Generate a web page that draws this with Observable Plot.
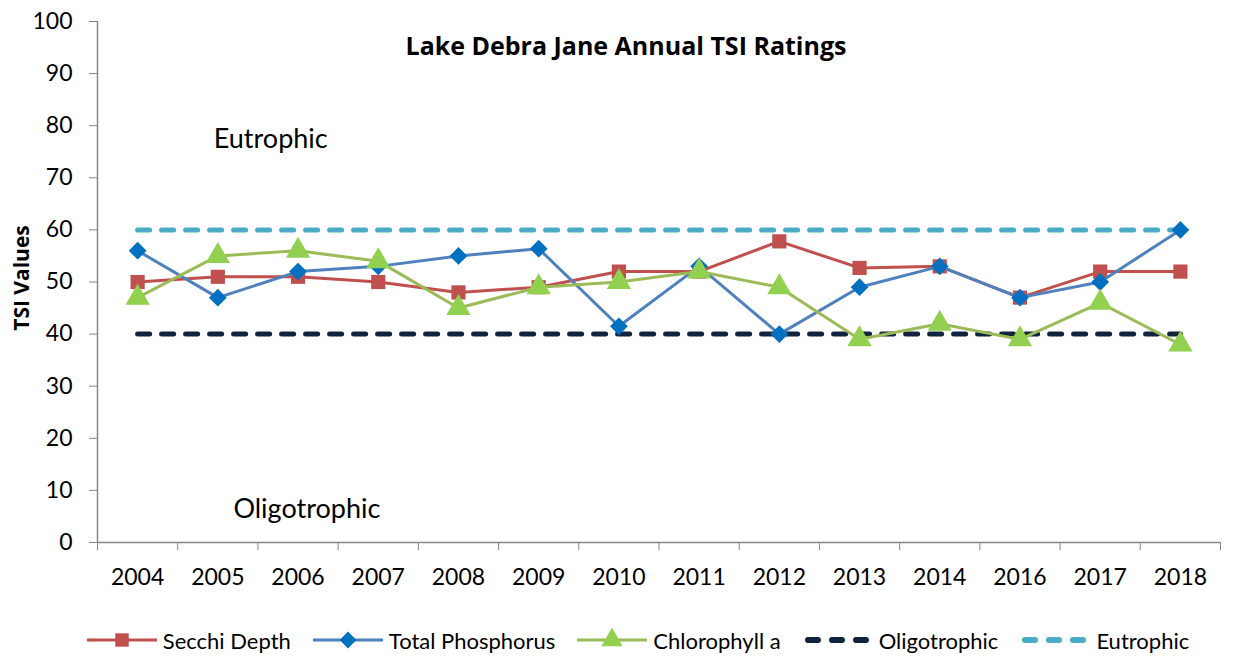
<!DOCTYPE html>
<html><head><meta charset="utf-8">
<script src="https://cdn.jsdelivr.net/npm/d3@7"></script>
<script src="https://cdn.jsdelivr.net/npm/@observablehq/plot@0.6"></script>
<style>
body{margin:0;background:#fff;font-family:Lato,"Open Sans",sans-serif;}
#legend{display:flex;justify-content:center;align-items:center;height:58px;margin-top:11px;padding-left:38px;font-size:22px;color:#000;}
#legend .item{display:flex;align-items:center;margin:0 11px;}
#legend svg{margin-right:6px;}
</style></head><body><div id="chart"></div><div id="legend"></div>
<script>
const years = ["2004","2005","2006","2007","2008","2009","2010","2011","2012","2013","2014","2016","2017","2018"];
const secchi = [50,51,51,50,48,49,52,52,57.8,52.7,53,47,52,52];
const phosphorus = [56,47,52,53,55,56.4,41.5,53,40,49,53,47,50,60];
const chlorophyll = [47,55,56,54,45,49,50,52,49,39,42,39,46,38];
const oligotrophic = [40,40,40,40,40,40,40,40,40,40,40,40,40,40];
const eutrophic = [60,60,60,60,60,60,60,60,60,60,60,60,60,60];
const yTicks = [0,10,20,30,40,50,60,70,80,90,100];

const rows = arr => arr.map((v, i) => ({i, v}));
const idx = years.map((_, i) => i);
const halves = [...idx.map(i => i - 0.5), years.length - 0.5];

const C = {secchiLine:"#C0504D", secchiDot:"#C0504D", tpLine:"#4F81BD", tpDot:"#0070C0", chlLine:"#9BBB59", chlDot:"#92D050", oligo:"#10243E", eu:"#4BACC6"};
const boldFont = '"Open Sans",Lato,sans-serif';

const chart = Plot.plot({
  width: 1238, height: 600,
  marginTop: 21, marginBottom: 58, marginLeft: 97, marginRight: 18,
  style: {fontFamily: 'Lato,"Open Sans",sans-serif', fontSize: "23px", color: "#000", background: "#fff"},
  x: {type: "linear", domain: [-0.5, years.length - 0.5]},
  y: {domain: [0, 100]},
  marks: [
    Plot.axisY({ticks: yTicks, tickSize: 8, tickPadding: 17, stroke: "#868686", fill: "#000", label: null, fontSize: 23}),
    Plot.axisX({ticks: idx, tickSize: 0, tickPadding: 26, tickFormat: i => years[i], label: null, fontSize: 23, fill: "#000"}),
    Plot.axisX({ticks: halves, tickSize: 8, tickFormat: () => "", stroke: "#868686", label: null}),
    Plot.ruleX([-0.5], {stroke: "#868686", strokeWidth: 1.5}),
    Plot.ruleY([0], {stroke: "#868686", strokeWidth: 1.5}),
    Plot.line(rows(oligotrophic), {x: "i", y: "v", stroke: C.oligo, strokeWidth: 5, strokeDasharray: "12,12", strokeLinecap: "round"}),
    Plot.line(rows(eutrophic), {x: "i", y: "v", stroke: C.eu, strokeWidth: 5, strokeDasharray: "12,12", strokeLinecap: "round"}),
    Plot.line(rows(secchi), {x: "i", y: "v", stroke: C.secchiLine, strokeWidth: 3}),
    Plot.dot(rows(secchi), {x: "i", y: "v", symbol: "square", r: 8, fill: C.secchiDot, stroke: null}),
    Plot.line(rows(phosphorus), {x: "i", y: "v", stroke: C.tpLine, strokeWidth: 3}),
    Plot.dot(rows(phosphorus), {x: "i", y: "v", symbol: "diamond2", r: 8, fill: C.tpDot, stroke: null}),
    Plot.line(rows(chlorophyll), {x: "i", y: "v", stroke: C.chlLine, strokeWidth: 3}),
    Plot.dot(rows(chlorophyll), {x: "i", y: "v", symbol: "triangle", r: 9, fill: C.chlDot, stroke: null}),
    Plot.text(["Lake Debra Jane Annual TSI Ratings"], {frameAnchor: "top", dy: 16, dx: -33, fontWeight: "bold", fontSize: 25, fontFamily: boldFont, fill: "#000"}),
    Plot.text(["TSI Values"], {frameAnchor: "left", textAnchor: "middle", rotate: -90, dx: -75, dy: -4, fontWeight: "bold", fontSize: 21, fontFamily: boldFont, fill: "#000"}),
    Plot.text(["Eutrophic"], {x: 1.66, y: 77.4, fontSize: 27, fill: "#000"}),
    Plot.text(["Oligotrophic"], {x: 2.11, y: 6.3, fontSize: 27, fill: "#000"})
  ]
});
document.getElementById("chart").append(chart);

const legendItems = [
  {label: "Secchi Depth", line: C.secchiLine, marker: "square", mcolor: C.secchiDot},
  {label: "Total Phosphorus", line: C.tpLine, marker: "diamond2", mcolor: C.tpDot},
  {label: "Chlorophyll a", line: C.chlLine, marker: "triangle", mcolor: C.chlDot},
  {label: "Oligotrophic", line: C.oligo, dash: true},
  {label: "Eutrophic", line: C.eu, dash: true}
];
const symMap = {square: d3.symbolSquare, diamond2: d3.symbolDiamond2, triangle: d3.symbolTriangle};
const leg = d3.select("#legend");
for (const it of legendItems) {
  const item = leg.append("div").attr("class", "item");
  const svg = item.append("svg").attr("width", 70).attr("height", 24);
  if (it.dash) {
    svg.append("line").attr("x1", 5).attr("x2", 65).attr("y1", 12).attr("y2", 12)
      .attr("stroke", it.line).attr("stroke-width", 6).attr("stroke-dasharray", "10,14").attr("stroke-linecap", "round");
  } else {
    svg.append("line").attr("x1", 0).attr("x2", 70).attr("y1", 12).attr("y2", 12)
      .attr("stroke", it.line).attr("stroke-width", 3);
    svg.append("path").attr("transform", "translate(35,12)")
      .attr("d", d3.symbol(symMap[it.marker], it.marker === "triangle" ? 200 : 180)())
      .attr("fill", it.mcolor);
  }
  item.append("span").text(it.label);
}
</script>
</body></html>
